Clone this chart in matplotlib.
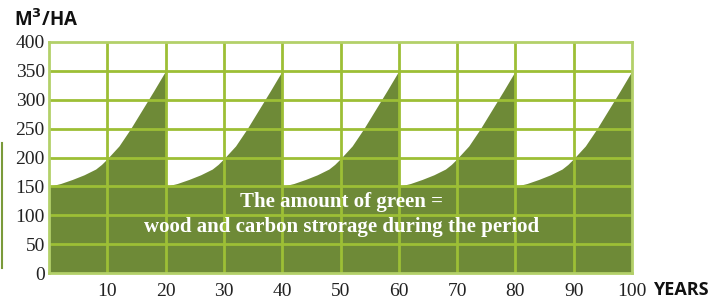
import matplotlib
matplotlib.use("Agg")
import matplotlib.pyplot as plt
from matplotlib.lines import Line2D
import numpy as np

# One rotation profile (years since planting -> standing volume m3/ha)
cycle_years = [0, 2, 4, 6, 8, 9, 10, 12, 14, 16, 18, 20]
cycle_volume = [150, 155, 162, 170, 180, 188, 198, 220, 250, 283, 316, 350]
# Rotation start years
cycle_starts = [0, 20, 40, 60, 80]

x_ticks = [10, 20, 30, 40, 50, 60, 70, 80, 90, 100]
y_ticks = [0, 50, 100, 150, 200, 250, 300, 350, 400]

FILL = "#6e8a37"
GRID = "#9dbf35"
SPINE = "#b3d069"

fig = plt.figure(figsize=(7.16, 3.0), dpi=100)
ax = fig.add_axes([49/716, 27/300, 583/716, 231/300])

xs, ys = [], []
for s in cycle_starts:
    xs += [s + c for c in cycle_years]
    ys += cycle_volume
ax.fill_between(xs, 0, ys, color=FILL, linewidth=0, zorder=1)

ax.set_xlim(0, 100)
ax.set_ylim(0, 400)
for xv in x_ticks[:-1]:
    ax.axvline(xv, color=GRID, lw=2, zorder=2)
for yv in y_ticks[1:-1]:
    ax.axhline(yv, color=GRID, lw=2, zorder=2)

for side in ["top", "left", "right", "bottom"]:
    ax.spines[side].set_color(SPINE)
    ax.spines[side].set_linewidth(2)
    ax.spines[side].set_zorder(3)

ax.set_xticks(x_ticks)
ax.set_yticks(y_ticks)
ax.set_xticklabels([str(v) for v in x_ticks])
ax.set_yticklabels([str(v) for v in y_ticks])
ax.tick_params(length=0, labelsize=14, colors="#222222")
ax.tick_params(axis="y", pad=3)
ax.tick_params(axis="x", pad=7)
for lab in ax.get_xticklabels() + ax.get_yticklabels():
    lab.set_fontfamily("Liberation Serif")

fig.text(14/716, 1 - 26/300, r"M$^{\mathbf{3}}$/HA", fontsize=13.5, fontweight="bold",
         fontfamily="Open Sans", color="#111111", ha="left", va="baseline")
fig.text(653/716, 1 - 295/300, "YEARS", fontsize=13, fontweight="bold",
         fontfamily="Open Sans", color="#111111", ha="left", va="baseline")

ax.text(0.5017, 0.309, "The amount of green =", transform=ax.transAxes,
        fontsize=15, fontweight="bold", fontfamily="Liberation Serif",
        color="white", ha="center", va="center", zorder=4)
ax.text(0.5017, 0.200, "wood and carbon strorage during the period", transform=ax.transAxes,
        fontsize=15, fontweight="bold", fontfamily="Liberation Serif",
        color="white", ha="center", va="center", zorder=4)

fig.add_artist(Line2D([1.5/716, 1.5/716], [1 - 143/300, 1 - 268/300],
                      transform=fig.transFigure, color="#7a9a3a", lw=1.5))

fig.savefig("out.png", dpi=100)
